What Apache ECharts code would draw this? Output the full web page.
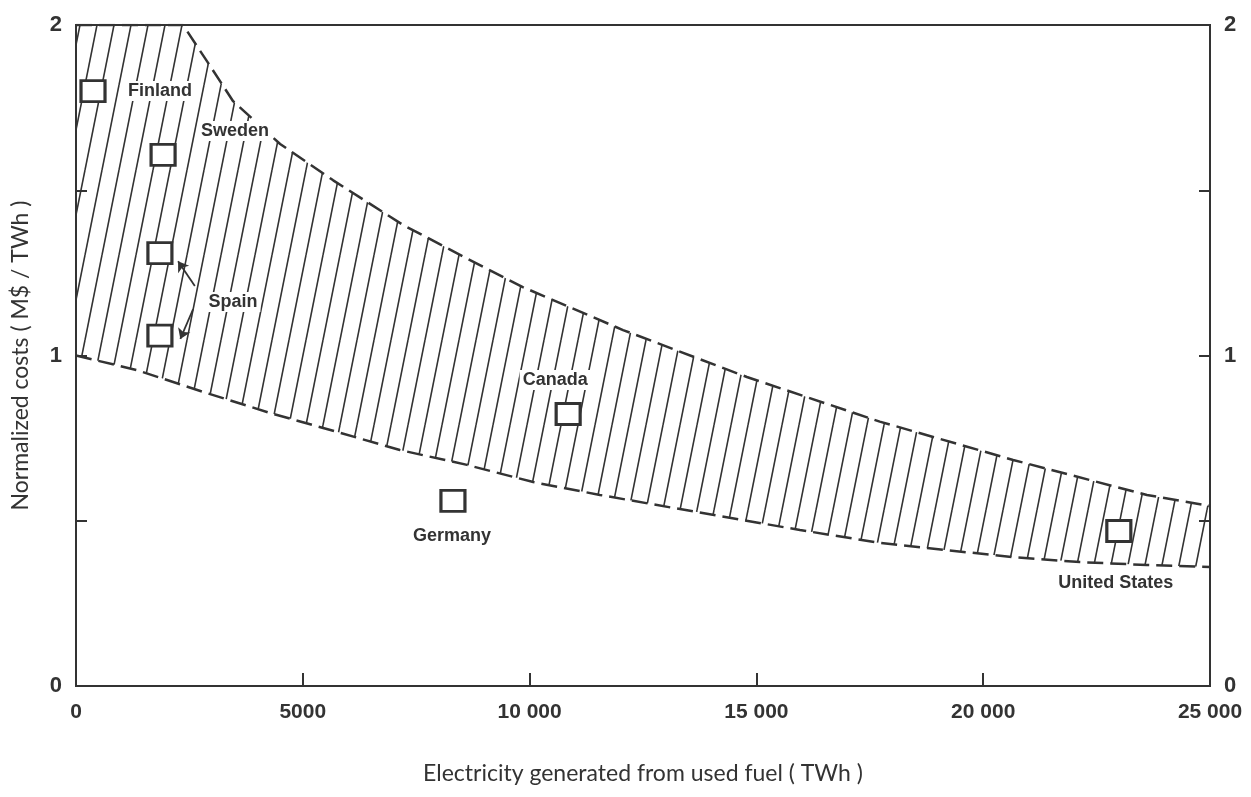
<!DOCTYPE html>
<html>
<head>
<meta charset="utf-8">
<script src="https://cdn.jsdelivr.net/npm/echarts@6/dist/echarts.min.js"></script>
<style>
  html, body { margin: 0; padding: 0; background: #fff; }
  #chart { width: 1251px; height: 797px; }
</style>
</head>
<body>
<div id="chart"></div>
<script>
// upper edge of the hatched band (TWh, M$/TWh)
var upperX = [0, 2360, 2890, 3460, 4500, 5670, 7210, 8530, 9850, 12060, 14790, 17720, 20660, 23610, 25000];
var upperY = [2.0, 2.0, 1.89, 1.77, 1.64, 1.53, 1.395, 1.30, 1.207, 1.077, 0.935, 0.80, 0.684, 0.578, 0.545];
// lower edge of the band
var lowerX = [0, 1340, 2800, 4280, 5750, 7140, 8620, 10080, 11550, 13160, 15960, 17720, 19200, 20660, 22130, 23610, 25000];
var lowerY = [1.0, 0.956, 0.89, 0.826, 0.769, 0.714, 0.669, 0.617, 0.578, 0.539, 0.472, 0.433, 0.411, 0.39, 0.375, 0.366, 0.36];

// countries
var countries = ['Finland', 'Sweden', 'Spain', 'Spain', 'Canada', 'Germany', 'United States'];
var energy = [375, 1920, 1850, 1850, 10850, 8310, 22990];
var cost = [1.80, 1.607, 1.31, 1.06, 0.823, 0.56, 0.469];

var xTicks = [0, 5000, 10000, 15000, 20000, 25000];
var yTicks = [0, 1, 2];

// arrows from the "Spain" label to its two points
var spainArrows = [
  [[2620, 1.21], [2250, 1.285]],
  [[2580, 1.14], [2300, 1.05]]
];

var ink = '#333';

// hatch pattern
function hatch() {
  var w = 17, h = 85;
  var c = document.createElement('canvas');
  c.width = w; c.height = h;
  var ctx = c.getContext('2d');
  ctx.strokeStyle = ink;
  ctx.lineWidth = 1.6;
  for (var k = -1; k <= 1; k++) {
    ctx.beginPath();
    ctx.moveTo(w + k * w, 0);
    ctx.lineTo(k * w, h);
    ctx.stroke();
  }
  return c;
}
var pattern = hatch();

function zip(a, b) {
  return a.map(function (v, i) { return [v, b[i]]; });
}
var upper = zip(upperX, upperY);
var lower = zip(lowerX, lowerY);

// label offsets relative to the square's centre
var labelOffset = {
  'Finland': [67, 0],
  'Sweden': [72, -24],
  'Spain': [73, 49],
  'Canada': [-13, -34],
  'Germany': [-1, 35],
  'United States': [-3, 52]
};

var pointData = countries.map(function (name, i) {
  var showLabel = !(name === 'Spain' && i === 3);
  return {
    value: [energy[i], cost[i]],
    name: name,
    label: { show: showLabel, offset: labelOffset[name] }
  };
});

var labelFont = 'Liberation Sans Narrow, Liberation Sans, Arial, sans-serif';

function fmtX(v) {
  if (v >= 10000) {
    var s = String(v);
    return s.slice(0, s.length - 3) + ' ' + s.slice(-3);
  }
  return String(v);
}

var yAxisBase = {
  type: 'value', min: 0, max: 2, interval: 0.5,
  axisLine: { show: true, lineStyle: { color: ink, width: 2 } },
  axisTick: { show: true, inside: true, length: 11, lineStyle: { color: ink, width: 2 } },
  splitLine: { show: false },
  axisLabel: {
    color: ink, fontFamily: labelFont, fontWeight: 'bold', fontSize: 22, margin: 14,
    formatter: function (v) { return yTicks.indexOf(v) >= 0 ? String(v) : ''; }
  }
};

var option = {
  backgroundColor: '#fff',
  animation: false,
  grid: { left: 76, right: 41, top: 25, bottom: 111, show: true, borderColor: ink, borderWidth: 2 },
  xAxis: {
    type: 'value', min: 0, max: 25000, interval: 5000,
    name: 'Electricity generated from used fuel ( TWh )',
    nameLocation: 'middle', nameGap: 76,
    nameTextStyle: { color: ink, fontFamily: 'Lato, sans-serif', fontSize: 23 },
    axisLine: { show: true, lineStyle: { color: ink, width: 2 } },
    axisTick: { show: true, inside: true, length: 13, lineStyle: { color: ink, width: 2 } },
    splitLine: { show: false },
    axisLabel: {
      color: ink, fontFamily: labelFont, fontWeight: 'bold', fontSize: 21, margin: 16,
      formatter: function (v) { return xTicks.indexOf(v) >= 0 ? fmtX(v) : ''; }
    }
  },
  yAxis: [
    Object.assign({}, yAxisBase, {
      position: 'left',
      name: 'Normalized costs ( M$ / TWh )',
      nameLocation: 'middle', nameGap: 44,
      nameTextStyle: { color: ink, fontFamily: 'Lato, sans-serif', fontSize: 23 }
    }),
    Object.assign({}, yAxisBase, { position: 'right' })
  ],
  series: [
    {
      type: 'custom',
      data: [[0, 0]],
      silent: true,
      z: 1,
      renderItem: function (params, api) {
        var pts = upper.map(function (p) { return api.coord(p); });
        lower.slice().reverse().forEach(function (p) { pts.push(api.coord(p)); });
        return {
          type: 'polygon',
          shape: { points: pts },
          style: { fill: { image: pattern, repeat: 'repeat' }, stroke: null }
        };
      }
    },
    {
      type: 'line', data: upper, symbol: 'none', z: 2,
      lineStyle: { color: ink, width: 2.5, type: [16, 7] }
    },
    {
      type: 'line', data: lower, symbol: 'none', z: 2,
      lineStyle: { color: ink, width: 2.5, type: [16, 7] }
    },
    {
      type: 'lines', coordinateSystem: 'cartesian2d', z: 3,
      symbol: ['none', 'arrow'], symbolSize: 10,
      lineStyle: { color: ink, width: 1.8, opacity: 1 },
      data: spainArrows.map(function (a) { return { coords: a }; })
    },
    {
      type: 'scatter', z: 5,
      symbol: 'rect', symbolSize: [24, 21],
      itemStyle: { color: '#fff', borderColor: ink, borderWidth: 3, opacity: 1 },
      label: {
        show: true, position: 'inside',
        formatter: '{b}',
        color: '#333', fontFamily: 'Liberation Sans, Arial, sans-serif', fontSize: 18,
        fontWeight: 'bold', backgroundColor: '#fff', padding: [1, 3]
      },
      data: pointData
    }
  ]
};

var chart = echarts.init(document.getElementById('chart'), null, { renderer: 'canvas' });
chart.setOption(option);
</script>
</body>
</html>
